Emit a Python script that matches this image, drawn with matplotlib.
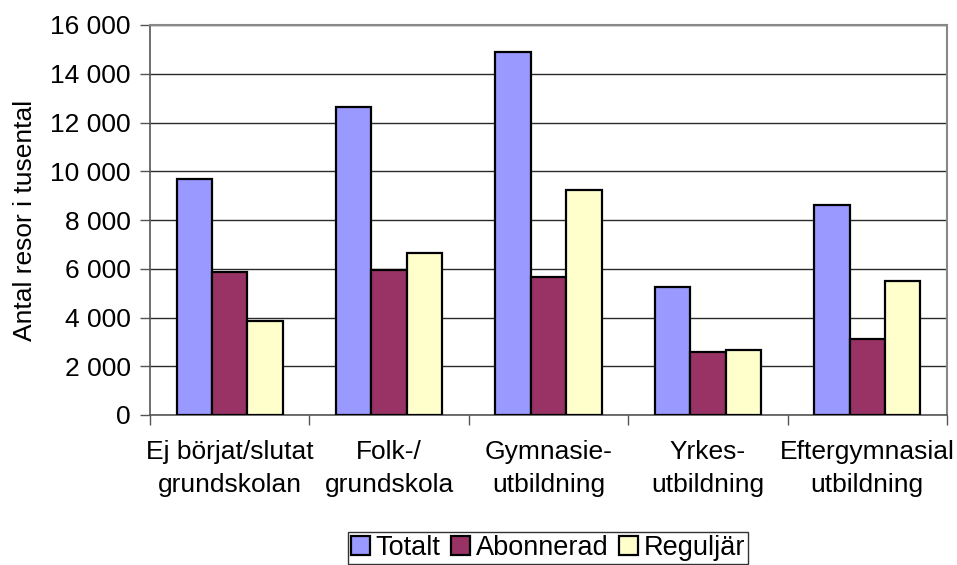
import matplotlib
matplotlib.use("Agg")
import matplotlib.pyplot as plt
import numpy as np

# data
categories = [
    "Ej börjat/slutat\ngrundskolan",
    "Folk-/\ngrundskola",
    "Gymnasie-\nutbildning",
    "Yrkes-\nutbildning",
    "Eftergymnasial\nutbildning",
]
totalt = [9700, 12650, 14900, 5250, 8600]
abonnerad = [5850, 5950, 5650, 2600, 3100]
reguljar = [3850, 6650, 9250, 2650, 5500]

series = [("Totalt", totalt, "#9999FF"),
          ("Abonnerad", abonnerad, "#993366"),
          ("Reguljär", reguljar, "#FFFFCC")]

plt.rcParams["font.family"] = ["Liberation Sans", "DejaVu Sans"]
FS = 19

fig = plt.figure(figsize=(9.57, 5.65), dpi=100)
W, H = 957, 565
ax = fig.add_axes([150 / W, 1 - 415 / H, 797 / W, 390 / H])

x = np.arange(len(categories))
bar_w = 1 / 4.5
for i, (name, vals, color) in enumerate(series):
    ax.bar(x + (i - 1) * bar_w, vals, width=bar_w, color=color,
           edgecolor="black", linewidth=1.6, label=name, zorder=3)

ax.set_xlim(-0.5, len(categories) - 0.5)
ax.set_ylim(0, 16000)
ax.set_yticks(np.arange(0, 16001, 2000))
ax.set_yticklabels([f"{v:,}".replace(",", " ") for v in range(0, 16001, 2000)])
ax.yaxis.grid(True, color="#2a2a2a", linewidth=1.0, zorder=0)

ax.set_xticks(x)
ax.set_xticklabels(categories, linespacing=1.45)
ax.set_xticks(np.arange(-0.5, len(categories)), minor=True)
ax.tick_params(axis="x", which="major", length=0, pad=18, labelsize=FS)
ax.tick_params(axis="x", which="minor", length=7, width=1, color="#555555")
ax.tick_params(axis="y", length=7, width=1, color="#555555", labelsize=FS, pad=7)

for side in ["top", "right"]:
    ax.spines[side].set_color("#888888")
    ax.spines[side].set_linewidth(1.5)
for side in ["left", "bottom"]:
    ax.spines[side].set_color("#555555")
    ax.spines[side].set_linewidth(1.2)

ax.set_ylabel("Antal resor i tusental", fontsize=FS, labelpad=9)

leg = fig.legend(loc="center", bbox_to_anchor=(548 / W, 1 - 548 / H),
                 ncol=3, fontsize=19.5, frameon=True, fancybox=False,
                 handlelength=0.7, handleheight=0.7, handletextpad=0.2,
                 columnspacing=0.4, borderpad=0.12, borderaxespad=0)
leg.get_frame().set_edgecolor("black")
leg.get_frame().set_linewidth(1.0)

fig.savefig("out.png", dpi=100)
